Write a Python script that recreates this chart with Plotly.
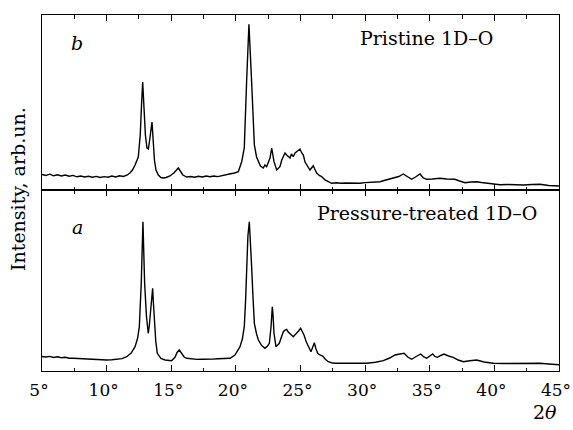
import plotly.graph_objects as go

# ---- data ----
# Top panel (b): Pristine 1D-O
pristine_2theta = [5.0, 5.3, 5.6, 5.9, 6.2, 6.5, 6.8, 7.1, 7.4, 7.7, 8.0, 8.3, 8.6, 8.9, 9.2, 9.5, 9.8,
                   10.1, 10.4, 10.7, 11.0, 11.3, 11.6, 11.8, 12.0, 12.2, 12.45, 12.6, 12.7, 12.79, 12.88,
                   13.0, 13.12, 13.23, 13.35, 13.45, 13.51, 13.6, 13.7, 13.82, 14.0, 14.2, 14.39, 14.6,
                   14.9, 15.2, 15.4, 15.55, 15.7, 15.9, 16.2, 16.5, 16.8, 17.1, 17.4, 17.7, 18.0, 18.3,
                   18.6, 18.9, 19.16, 19.5, 19.9, 20.19, 20.45, 20.65, 20.83, 21.01, 21.22, 21.43, 21.6,
                   21.74, 21.9, 22.12, 22.25, 22.38, 22.55, 22.64, 22.77, 22.85, 22.95, 23.16, 23.3,
                   23.41, 23.55, 23.67, 23.8, 23.93, 24.05, 24.19, 24.3, 24.44, 24.58, 24.7, 24.85,
                   24.96, 25.1, 25.22, 25.35, 25.48, 25.6, 25.73, 25.85, 25.99, 26.1, 26.25, 26.45,
                   26.64, 26.9, 27.1, 27.41, 27.8, 28.1, 28.5, 29.0, 29.6, 30.0, 30.5, 31.15, 31.6,
                   32.18, 32.6, 32.95, 33.2, 33.6, 33.9, 34.25, 34.5, 34.76, 35.2, 35.79, 36.3, 36.95,
                   37.3, 37.73, 38.2, 38.63, 39.0, 39.4, 40.0, 40.44, 41.0, 41.6, 42.24, 42.9, 43.53,
                   44.2, 44.82, 45.0]
pristine_int = [15.5, 14.5, 15.8, 14.2, 15.2, 14.0, 15.0, 13.8, 14.6, 13.2, 14.0, 13.0, 13.8, 12.8, 13.6,
                12.5, 13.4, 12.8, 14.0, 13.0, 14.2, 13.5, 15.0, 17.0, 20, 25, 33, 55, 85, 108, 85,
                55, 42, 41, 52, 66, 68, 50, 30, 20, 15, 12.5, 12, 12.5,
                14, 17, 20.5, 22, 19, 15, 13, 13.5, 12.8, 13.8, 13, 14, 13.2, 14,
                13.4, 14.5, 15, 16, 17, 18.3, 28.3, 42, 108, 165.7, 108, 45, 33,
                28.3, 24, 22, 25, 23.3, 28, 32, 42, 36, 28.3, 20, 22,
                23.3, 30, 33.3, 37, 35, 34, 32, 36, 33.3, 37, 38.3, 39,
                41, 37, 35, 28, 25, 22, 20, 22, 24.3, 21, 17, 14.5,
                13.3, 10, 8.5, 6.7, 7.2, 6.7, 7, 6.7, 6.7, 7.4, 8, 8.3, 10,
                11.7, 13.5, 16, 14, 10.7, 13, 16, 12, 10.7, 11, 11.7, 11, 10.7,
                9, 7.3, 8, 8.3, 7.5, 6.7, 6, 5.3, 5.5, 5, 5, 5.5, 5.7,
                4.5, 4, 4]

# Bottom panel (a): Pressure-treated 1D-O
treated_2theta = [5.0, 5.3, 5.6, 5.9, 6.2, 6.5, 6.8, 7.1, 7.42, 7.8, 8.2, 8.6, 9.0, 9.4, 9.8, 10.0, 10.4,
                  10.8, 11.2, 11.55, 11.9, 12.2, 12.4, 12.53, 12.68, 12.81, 12.94, 13.08, 13.22, 13.3,
                  13.38, 13.47, 13.56, 13.62, 13.69, 13.8, 13.92, 14.2, 14.52, 15.03, 15.3, 15.45,
                  15.62, 15.8, 16.0, 16.19, 16.6, 17.0, 17.4, 17.74, 18.2, 18.6, 19.0, 19.55, 19.93,
                  20.32, 20.5, 20.65, 20.75, 20.83, 20.93, 21.04, 21.13, 21.22, 21.32, 21.43, 21.6,
                  21.74, 22.0, 22.25, 22.45, 22.59, 22.72, 22.82, 22.88, 22.95, 23.1, 23.36, 23.5,
                  23.67, 23.8, 23.93, 24.05, 24.19, 24.3, 24.44, 24.58, 24.7, 24.85, 25.01, 25.15,
                  25.27, 25.45, 25.6, 25.81, 25.95, 26.07, 26.2, 26.33, 26.5, 26.72, 26.9, 27.15,
                  27.4, 27.67, 28.1, 28.6, 29.09, 29.6, 30.12, 30.8, 31.41, 31.9, 32.31, 32.7, 33.01,
                  33.3, 33.6, 33.95, 34.3, 34.55, 34.76, 35.0, 35.23, 35.4, 35.59, 35.85, 36.1, 36.45,
                  36.82, 37.2, 37.6, 38.1, 38.63, 39.2, 39.92, 40.9, 41.98, 42.8, 43.53, 44.2, 44.82,
                  45.0]
treated_int = [14.5, 14, 14.6, 13.5, 14.2, 13.3, 13.8, 12.8, 12.7, 12.4, 12.2, 11.8, 11.9, 11.4, 11.2, 11,
               11.3, 11.8, 12.4, 14.3, 18, 24.3, 33, 44.3, 88, 149.3, 88, 55, 37.7, 45,
               58, 72, 82.7, 68, 51, 30, 17.7, 12.5, 11, 10.3, 14, 18.5,
               21, 17, 14, 12.7, 12, 11.6, 11.8, 11.7, 11.9, 12.2, 12.4, 12.7, 16,
               24.3, 32, 44.3, 70, 104.3, 135, 149.3, 130, 104.3, 75, 47.7, 37,
               31, 25.5, 22.7, 25, 27.7, 44.3, 64.3, 55, 37.7, 24.3, 27.7, 33,
               39.3, 41, 41.7, 39, 37.7, 36, 34.3, 36, 37.7, 40, 42.7, 39,
               36, 29, 24.3, 19.3, 24, 28.3, 22, 17.7, 16, 15, 12, 9.3,
               8.3, 7.7, 7.7, 7.6, 7.7, 7.8, 7.7, 8.8, 10.3, 13, 16, 17, 17.7,
               14, 11.7, 14.5, 17, 14, 12.7, 15, 17, 14.5, 13.7, 15.5, 17, 15,
               13.7, 11, 9.3, 10.3, 11, 9, 7.7, 7.5, 7.7, 7.6, 7.7, 7, 6.3,
               6.3]

tick_vals = [5, 10, 15, 20, 25, 30, 35, 40, 45]
tick_text = ["5°", "10°", "15°", "20°", "25°", "30°", "35°", "40°", "45°"]

FONT = "DejaVu Serif"
W, H = 573, 430
ML, MR, MT, MB = 42, 14, 15, 59
PW, PH = W - ML - MR, H - MT - MB
SPLIT = (371 - 190) / PH


def px(x):
    return (x - ML) / PW


def py(y):
    return (H - MB - y) / PH


fig = go.Figure()
fig.add_trace(go.Scatter(x=treated_2theta, y=treated_int, mode="lines",
                         line=dict(color="black", width=1.4), xaxis="x", yaxis="y",
                         showlegend=False, hoverinfo="skip"))
fig.add_trace(go.Scatter(x=pristine_2theta, y=pristine_int, mode="lines",
                         line=dict(color="black", width=1.4), xaxis="x2", yaxis="y2",
                         showlegend=False, hoverinfo="skip"))

xcommon = dict(range=[5, 45], showline=True, linecolor="black", linewidth=1, mirror="allticks",
               ticks="inside", ticklen=6, tickcolor="black", tickwidth=1, automargin=False,
               tickvals=tick_vals, ticktext=tick_text, showgrid=False, zeroline=False,
               minor=dict(dtick=2.5, tick0=5, ticks="inside", ticklen=3.5, tickcolor="black",
                          tickwidth=1, showgrid=False))
ycommon = dict(showline=True, linecolor="black", linewidth=1, mirror=True, ticks="",
               automargin=False, showticklabels=False, showgrid=False, zeroline=False)

fig.update_layout(
    width=W, height=H, autosize=False,
    margin=dict(l=ML, r=MR, t=MT, b=MB, autoexpand=False),
    paper_bgcolor="white", plot_bgcolor="white",
    xaxis=dict(anchor="y", domain=[0, 1], ticklabeloverflow="allow", ticklabelshift=-3,
               ticklabelstandoff=4,
               tickfont=dict(family=FONT, size=17, color="black"), **xcommon),
    xaxis2=dict(anchor="y2", domain=[0, 1], matches="x", showticklabels=False, **xcommon),
    yaxis=dict(domain=[0, SPLIT], range=[0, 181], anchor="x", **ycommon),
    yaxis2=dict(domain=[SPLIT, 1], range=[0, 175], anchor="x2", **ycommon),
    font=dict(family=FONT, color="black"),
)

ann = [
    dict(text="<i>b</i>", x=px(77), y=py(43)),
    dict(text="<i>a</i>", x=px(77), y=py(227)),
    dict(text="Pristine 1D–O", x=px(426.5), y=py(38)),
    dict(text="Pressure-treated 1D–O", x=px(426.5), y=py(213)),
    dict(text="2<i>θ</i>", x=px(545), y=py(412)),
]
for a in ann:
    fig.add_annotation(xref="paper", yref="paper", showarrow=False,
                       xanchor="center", yanchor="middle",
                       font=dict(family=FONT, size=19, color="black"), **a)
fig.add_annotation(text="Intensity, arb.un.", xref="paper", yref="paper", x=px(18), y=py(189),
                   showarrow=False, textangle=-90, xanchor="center", yanchor="middle",
                   font=dict(family=FONT, size=19, color="black"))

fig.write_html(
    "out.html",
    config={"displayModeBar": False},
    post_script=("document.documentElement.style.margin='0';"
                 "document.body.style.margin='0';"
                 "document.body.style.overflow='hidden';"
                 "document.documentElement.style.overflow='hidden';"),
)
